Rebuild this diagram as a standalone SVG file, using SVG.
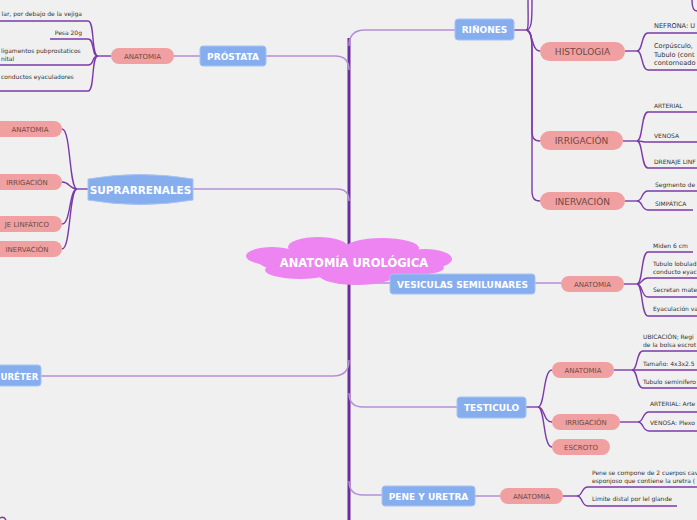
<svg xmlns="http://www.w3.org/2000/svg" width="697" height="520" viewBox="0 0 697 520">
<style>
.bg{fill:#f0f0f0}
.trunk{fill:none;stroke:#6a2c9e;stroke-width:3}
.br{fill:none;stroke:#b58fd6;stroke-width:1.5}
.sub{fill:none;stroke:#7b3aa9;stroke-width:1.4}
.blue{fill:#86aeef;stroke:#a6c3f3;stroke-width:1}
.bt{font-family:"DejaVu Sans",Verdana,sans-serif;font-weight:bold;fill:#ffffff;font-size:9px}
.pink{fill:#f0a0a0}
.pt{font-family:"DejaVu Sans",Verdana,sans-serif;fill:#6e4a44;font-size:7px}
.pt2{font-family:"DejaVu Sans",Verdana,sans-serif;fill:#6e4a44;font-size:9px}
.lt{font-family:"DejaVu Sans",Verdana,sans-serif;fill:#333333;font-size:6px}
.lt2{font-family:"DejaVu Sans",Verdana,sans-serif;fill:#333333;font-size:6.6px}
.cloud{fill:#ee84f1}
</style>
<rect class="bg" x="0" y="0" width="697" height="520"/>

<g id="connectors">
  <path class="trunk" d="M349,38 L349,520"/>
  <path class="br" d="M349,46 Q349,30 365,30 L455,30"/>
  <path class="br" d="M266,56 L335,56 Q349,56 349,70"/>
  <path class="br" d="M193,189 L337,189 Q349,189 349,201"/>
  <path class="br" d="M41,376 L333,376 Q349,376 349,360"/>
  <path class="br" d="M349,270 Q349,283 362,283 L390,283"/>
  <path class="br" d="M349,393 Q349,407 363,407 L457,407"/>
  <path class="br" d="M349,481 Q349,495 363,495 L382,495"/>
  <path class="sub" d="M0,518 Q4,516 6,520"/>

  <path class="br" d="M200,56 L174,56"/>
  <path class="sub" d="M111,56 L98,56"/>
  <path class="sub" d="M98,56 C91,56 95,21 88,21 L0,21"/>
  <path class="sub" d="M98,56 C91,56 95,39 88,39 L50,39"/>
  <path class="sub" d="M98,56 C91,56 95,65 88,65 L0,65"/>
  <path class="sub" d="M98,56 C91,56 95,91 88,91 L0,91"/>

  <path class="sub" d="M88,189 L77,189"/>
  <path class="sub" d="M77,189 C69,189 71,129 62,129"/>
  <path class="sub" d="M77,189 C69,189 70,182 62,182"/>
  <path class="sub" d="M77,189 C69,189 71,224 62,224"/>
  <path class="sub" d="M77,189 C69,189 71,249 62,249"/>

  <path class="sub" d="M514,30 L526,30"/>
  <path class="sub" d="M526,30 C529,30 528,20 528,0"/>
  <path class="sub" d="M526,30 C532,30 532,20 532,0"/>
  <path class="sub" d="M526,30 C533,30 531,51 540,51"/>
  <path class="sub" d="M526,30 C532,30 532,42 532,55 L532,130 C532,138 534,141 540,141"/>
  <path class="sub" d="M526,30 C532,30 532,42 532,55 L532,190 C532,198 534,201 540,201"/>
  <path class="sub" d="M692,0 C692,8 694,11 697,11"/>

  <path class="sub" d="M625,51 L637,51"/>
  <path class="sub" d="M637,51 C643,51 641,33 648,33 L697,33"/>
  <path class="sub" d="M637,51 C643,51 641,70 648,70 L697,70"/>

  <path class="sub" d="M623,141 L637,141"/>
  <path class="sub" d="M637,141 C643,141 641,112 648,112 L697,112"/>
  <path class="sub" d="M637,141 C643,141 641,142 648,142 L697,142"/>
  <path class="sub" d="M637,141 C643,141 641,168 648,168 L697,168"/>

  <path class="sub" d="M625,201 L637,201"/>
  <path class="sub" d="M637,201 C643,201 641,191 648,191 L697,191"/>
  <path class="sub" d="M637,201 C643,201 641,210 648,210 L693,210"/>

  <path class="br" d="M535,283 L561,283"/>
  <path class="sub" d="M624,284 L637,284"/>
  <path class="sub" d="M637,284 C643,284 641,252 648,252 L693,252"/>
  <path class="sub" d="M637,284 C643,284 641,278 648,278 L697,278"/>
  <path class="sub" d="M637,284 C643,284 641,297 648,297 L697,297"/>
  <path class="sub" d="M637,284 C643,284 641,316 648,316 L697,316"/>

  <path class="sub" d="M526,407 L538,407"/>
  <path class="sub" d="M538,407 C545,407 543,370 552,370"/>
  <path class="sub" d="M538,407 C545,407 543,422 552,422"/>
  <path class="sub" d="M538,407 C545,407 543,447 552,447"/>

  <path class="sub" d="M614,370 L632,370"/>
  <path class="sub" d="M632,370 C638,370 636,351 643,351 L697,351"/>
  <path class="sub" d="M632,370 C638,370 636,370 643,370 L697,370"/>
  <path class="sub" d="M632,370 C638,370 636,388 643,388 L697,388"/>

  <path class="sub" d="M620,422 L638,422"/>
  <path class="sub" d="M638,422 C644,422 642,412 649,412 L697,412"/>
  <path class="sub" d="M638,422 C644,422 642,431 649,431 L697,431"/>

  <path class="br" d="M475,496 L500,496"/>
  <path class="sub" d="M563,496 L577,496"/>
  <path class="sub" d="M577,496 C583,496 581,487 588,487 L697,487"/>
  <path class="sub" d="M577,496 C583,496 581,506 588,506 L677,506"/>
</g>

<g id="central">
  <ellipse class="cloud" cx="318" cy="247" rx="30" ry="10"/>
  <ellipse class="cloud" cx="382" cy="248" rx="37" ry="10"/>
  <ellipse class="cloud" cx="272" cy="256" rx="26" ry="9"/>
  <ellipse class="cloud" cx="425" cy="259" rx="27" ry="10"/>
  <ellipse class="cloud" cx="300" cy="270" rx="35" ry="9"/>
  <ellipse class="cloud" cx="357" cy="275" rx="38" ry="10"/>
  <ellipse class="cloud" cx="412" cy="268" rx="32" ry="7"/>
  <ellipse class="cloud" cx="350" cy="261" rx="92" ry="16"/>
  <text class="bt" x="354" y="267" text-anchor="middle" style="font-size:11.5px">ANATOMÍA UROLÓGICA</text>
</g>

<g id="prostata">
  <rect class="blue" x="200" y="46" width="66" height="20" rx="3"/>
  <text class="bt" x="233" y="60" text-anchor="middle">PRÓSTATA</text>
</g>
<g id="prostata-anatomia">
  <rect class="pink" x="111" y="48" width="63" height="16" rx="8"/>
  <text class="pt" x="142.5" y="58.5" text-anchor="middle">ANATOMIA</text>
</g>
<g id="prostata-textos">
  <text class="lt" x="82" y="16" text-anchor="end">lar, por debajo de la vejiga</text>
  <text class="lt" x="82" y="35" text-anchor="end">Pesa 20g</text>
  <text class="lt" x="1" y="53">ligamentos pubprostaticos</text>
  <text class="lt" x="1" y="61">nital</text>
  <text class="lt" x="1" y="79">conductos eyaculadores</text>
</g>

<g id="suprarrenales">
  <path class="blue" d="M88,179 Q140,170 193,179 L193,200 Q140,209 88,200 Z"/>
  <text class="bt" x="140.5" y="193.5" text-anchor="middle" style="font-size:10.5px">SUPRARRENALES</text>
</g>
<g id="supra-anatomia">
  <rect class="pink" x="-20" y="121" width="82" height="16" rx="8"/>
  <text class="pt" x="30" y="131.5" text-anchor="middle">ANATOMIA</text>
</g>
<g id="supra-irrigacion">
  <rect class="pink" x="-20" y="174" width="82" height="16" rx="8"/>
  <text class="pt" x="27" y="184.5" text-anchor="middle">IRRIGACIÓN</text>
</g>
<g id="supra-drenaje">
  <rect class="pink" x="-20" y="216" width="82" height="16" rx="8"/>
  <text class="pt" x="49" y="226.5" text-anchor="end">JE LINFÁTICO</text>
</g>
<g id="supra-inervacion">
  <rect class="pink" x="-20" y="241" width="82" height="16" rx="8"/>
  <text class="pt" x="27" y="251.5" text-anchor="middle">INERVACIÓN</text>
</g>

<g id="ureter">
  <rect class="blue" x="-10" y="365" width="51" height="21" rx="3"/>
  <text class="bt" x="0.5" y="379.5" style="font-size:8.6px">URÉTER</text>
</g>

<g id="rinones">
  <rect class="blue" x="455" y="19" width="59" height="21" rx="3"/>
  <text class="bt" x="484.5" y="33" text-anchor="middle">RIÑONES</text>
</g>
<g id="histologia">
  <rect class="pink" x="540" y="42" width="85" height="19" rx="9.5"/>
  <text class="pt2" x="582.5" y="55" text-anchor="middle">HISTOLOGIA</text>
  <text class="lt2" x="654" y="28">NEFRONA: U</text>
  <text class="lt2" x="654" y="48">Corpúsculo,</text>
  <text class="lt2" x="654" y="57">Tubulo (cont</text>
  <text class="lt2" x="654" y="65">contorneado</text>
</g>
<g id="rinones-irrigacion">
  <rect class="pink" x="540" y="131" width="83" height="19" rx="9.5"/>
  <text class="pt2" x="581.5" y="144" text-anchor="middle">IRRIGACIÓN</text>
  <text class="lt" x="654" y="108">ARTERIAL</text>
  <text class="lt" x="654" y="138">VENOSA</text>
  <text class="lt" x="654" y="164">DRENAJE LINF</text>
</g>
<g id="rinones-inervacion">
  <rect class="pink" x="540" y="192" width="85" height="18" rx="9"/>
  <text class="pt2" x="582.5" y="204.5" text-anchor="middle">INERVACIÓN</text>
  <text class="lt" x="655" y="187">Segmento de</text>
  <text class="lt" x="655" y="206">SIMPÁTICA</text>
</g>

<g id="vesiculas">
  <rect class="blue" x="390" y="274" width="145" height="20" rx="3"/>
  <text class="bt" x="462.5" y="287.5" text-anchor="middle">VESICULAS SEMILUNARES</text>
</g>
<g id="vesiculas-anatomia">
  <rect class="pink" x="561" y="276" width="63" height="16" rx="8"/>
  <text class="pt" x="592.5" y="286.5" text-anchor="middle">ANATOMIA</text>
  <text class="lt" x="653" y="248">Miden 6 cm</text>
  <text class="lt" x="653" y="266">Tubulo lobulad</text>
  <text class="lt" x="653" y="274">conducto eyac</text>
  <text class="lt" x="653" y="292">Secretan mate</text>
  <text class="lt" x="653" y="311">Eyaculación va</text>
</g>

<g id="testiculo">
  <rect class="blue" x="457" y="397" width="69" height="21" rx="3"/>
  <text class="bt" x="491.5" y="411" text-anchor="middle">TESTICULO</text>
</g>
<g id="testiculo-anatomia">
  <rect class="pink" x="552" y="362" width="62" height="16" rx="8"/>
  <text class="pt" x="583" y="372.5" text-anchor="middle">ANATOMIA</text>
  <text class="lt" x="643" y="339">UBICACIÓN; Regi</text>
  <text class="lt" x="643" y="347">de la bolsa escrot</text>
  <text class="lt" x="643" y="366">Tamaño: 4x3x2.5</text>
  <text class="lt" x="643" y="384">Tubulo seminifero</text>
</g>
<g id="testiculo-irrigacion">
  <rect class="pink" x="552" y="414" width="68" height="16" rx="8"/>
  <text class="pt" x="586" y="424.5" text-anchor="middle">IRRIGACIÓN</text>
  <text class="lt" x="650" y="406">ARTERIAL: Arte</text>
  <text class="lt" x="650" y="425">VENOSA: Plexo</text>
</g>
<g id="escroto">
  <rect class="pink" x="552" y="439" width="58" height="16" rx="8"/>
  <text class="pt" x="581" y="449.5" text-anchor="middle">ESCROTO</text>
</g>

<g id="pene">
  <rect class="blue" x="382" y="486" width="93" height="20" rx="3"/>
  <text class="bt" x="428.5" y="499.5" text-anchor="middle">PENE Y URETRA</text>
</g>
<g id="pene-anatomia">
  <rect class="pink" x="500" y="488" width="63" height="16" rx="8"/>
  <text class="pt" x="531.5" y="498.5" text-anchor="middle">ANATOMIA</text>
  <text class="lt" x="592" y="475">Pene se compone de 2 cuerpos cav</text>
  <text class="lt" x="592" y="483">esponjoso que contiene la uretra (</text>
  <text class="lt" x="592" y="501">Limite distal por lel glande</text>
</g>
</svg>
